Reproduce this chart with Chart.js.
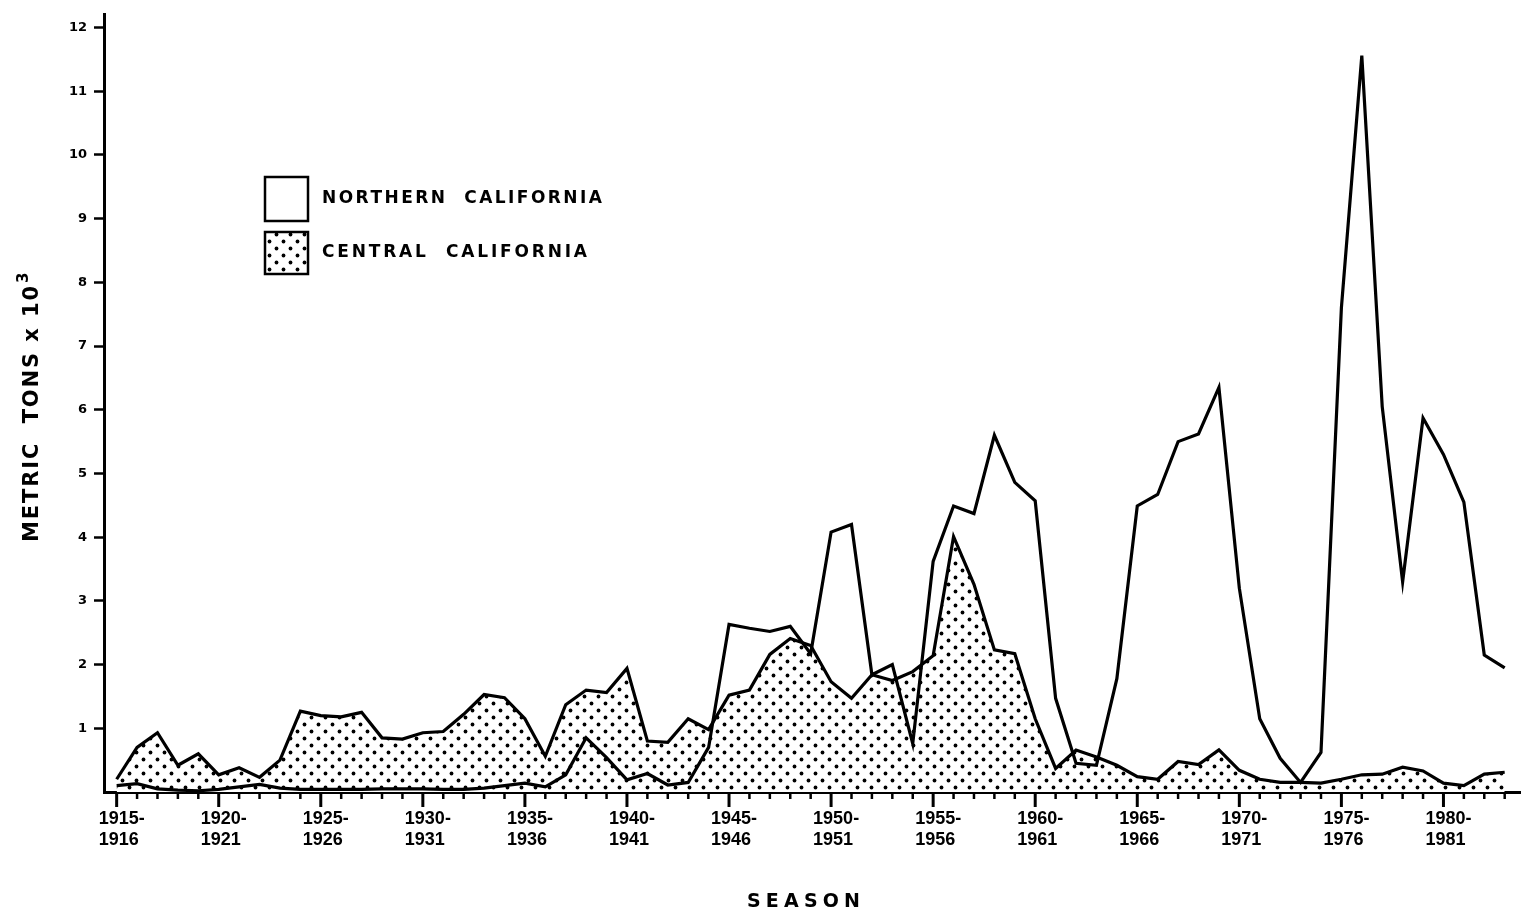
<!DOCTYPE html>
<html>
<head>
<meta charset="utf-8">
<title>Metric tons by season</title>
<script src="https://cdn.jsdelivr.net/npm/chart.js@4.4.1/dist/chart.umd.min.js"></script>
<style>
    html, body { margin: 0; padding: 0; background: #fff; }
    #chart-container { width: 1527px; height: 917px; }
</style>
</head>
<body>
<div id="chart-container"><canvas id="myChart" width="1527" height="917"></canvas></div>
<script>
// Seasons (first year of each season, e.g. 1915 = 1915-1916)
const seasons = [
    1915, 1916, 1917, 1918, 1919, 1920, 1921, 1922, 1923, 1924,
    1925, 1926, 1927, 1928, 1929, 1930, 1931, 1932, 1933, 1934,
    1935, 1936, 1937, 1938, 1939, 1940, 1941, 1942, 1943, 1944,
    1945, 1946, 1947, 1948, 1949, 1950, 1951, 1952, 1953, 1954,
    1955, 1956, 1957, 1958, 1959, 1960, 1961, 1962, 1963, 1964,
    1965, 1966, 1967, 1968, 1969, 1970, 1971, 1972, 1973, 1974,
    1975, 1976, 1977, 1978, 1979, 1980, 1981, 1982, 1983
];

// Metric tons x 10^3
const northernCalifornia = [
    0.10, 0.13, 0.05, 0.03, 0.02, 0.04, 0.08, 0.12, 0.06, 0.04,
    0.04, 0.04, 0.04, 0.05, 0.05, 0.05, 0.04, 0.04, 0.06, 0.10,
    0.14, 0.08, 0.27, 0.85, 0.54, 0.19, 0.29, 0.11, 0.15, 0.70,
    2.63, 2.57, 2.52, 2.60, 2.17, 4.08, 4.20, 1.84, 2.00, 0.76,
    3.62, 4.49, 4.37, 5.60, 4.86, 4.57, 1.47, 0.45, 0.42, 1.78,
    4.49, 4.67, 5.50, 5.62, 6.35, 3.20, 1.15, 0.53, 0.15, 0.62,
    7.60, 11.56, 6.05, 3.30, 5.87, 5.30, 4.55, 2.15, 1.95
];

const centralCalifornia = [
    0.20, 0.70, 0.93, 0.42, 0.60, 0.27, 0.38, 0.23, 0.50, 1.27,
    1.20, 1.18, 1.25, 0.85, 0.83, 0.93, 0.95, 1.22, 1.53, 1.48,
    1.15, 0.56, 1.37, 1.60, 1.56, 1.94, 0.80, 0.78, 1.15, 0.98,
    1.52, 1.60, 2.16, 2.41, 2.30, 1.73, 1.47, 1.84, 1.75, 1.89,
    2.14, 4.01, 3.26, 2.23, 2.17, 1.15, 0.37, 0.66, 0.55, 0.42,
    0.24, 0.20, 0.48, 0.43, 0.66, 0.34, 0.20, 0.15, 0.15, 0.14,
    0.20, 0.27, 0.28, 0.39, 0.33, 0.14, 0.10, 0.28, 0.31
];

const yTickValues = [1, 2, 3, 4, 5, 6, 7, 8, 9, 10, 11, 12];

const FONT = '"Liberation Sans", Arial, sans-serif';
const TITLE_FONT = '"DejaVu Sans", "Liberation Sans", sans-serif';

const canvas = document.getElementById('myChart');
const ctx = canvas.getContext('2d');

// Dotted fill used for the Central California area
function makeDotPattern() {
    const tile = document.createElement('canvas');
    tile.width = 14;
    tile.height = 14;
    const g = tile.getContext('2d');
    g.fillStyle = '#fff';
    g.fillRect(0, 0, 14, 14);
    g.fillStyle = '#000';
    [[3.5, 3.5], [10.5, 10.5]].forEach(([x, y]) => {
        g.beginPath();
        g.arc(x, y, 1.9, 0, Math.PI * 2);
        g.fill();
    });
    return ctx.createPattern(tile, 'repeat');
}
const dots = makeDotPattern();

// Draw text stretched to a given width with letter spacing
function spacedText(c, text, x, y, width) {
    c.letterSpacing = '0px';
    const w0 = c.measureText(text).width;
    const sp = Math.max(0, (width - w0) / (text.length - 1));
    c.letterSpacing = sp + 'px';
    c.fillText(text, x, y);
    c.letterSpacing = '0px';
}

// Minor/major tick marks under the x axis, plus legend and axis titles
const decorations = {
    id: 'decorations',
    afterDraw(chart) {
        const c = chart.ctx;
        const xs = chart.scales.x;
        const base = chart.chartArea.bottom;
        c.save();
        c.strokeStyle = '#000';
        seasons.forEach(yr => {
            const px = xs.getPixelForValue(yr);
            const major = yr % 5 === 0;
            c.lineWidth = major ? 3 : 2.5;
            c.beginPath();
            c.moveTo(px, base);
            c.lineTo(px, base + (major ? 15 : 7));
            c.stroke();
        });

        // legend
        c.lineWidth = 2.5;
        c.fillStyle = '#fff';
        c.fillRect(265, 177, 43, 44);
        c.strokeRect(265, 177, 43, 44);
        c.fillStyle = dots;
        c.fillRect(265, 232, 43, 42);
        c.strokeRect(265, 232, 43, 42);

        c.fillStyle = '#000';
        c.font = 'bold 17px ' + TITLE_FONT;
        c.textBaseline = 'middle';
        c.textAlign = 'left';
        spacedText(c, 'NORTHERN  CALIFORNIA', 322, 199, 280);
        spacedText(c, 'CENTRAL  CALIFORNIA', 322, 253, 265);

        // x title
        c.font = 'bold 19px ' + TITLE_FONT;
        spacedText(c, 'SEASON', 747, 902, 113);

        // y title (rotated)
        c.translate(38, 542);
        c.rotate(-Math.PI / 2);
        c.textBaseline = 'alphabetic';
        c.font = 'bold 21px ' + TITLE_FONT;
        spacedText(c, 'METRIC  TONS x 10', 0, 0, 256);
        c.font = 'bold 15px ' + TITLE_FONT;
        c.fillText('3', 259, -10);
        c.restore();
    }
};

new Chart(canvas, {
    type: 'line',
    data: {
        datasets: [
            {
                label: 'NORTHERN CALIFORNIA',
                data: seasons.map((s, i) => ({ x: s, y: northernCalifornia[i] })),
                borderColor: '#000',
                borderWidth: 3.2,
                fill: false,
                pointRadius: 0,
                tension: 0,
                order: 0
            },
            {
                label: 'CENTRAL CALIFORNIA',
                data: seasons.map((s, i) => ({ x: s, y: centralCalifornia[i] })),
                borderColor: '#000',
                borderWidth: 3.2,
                backgroundColor: dots,
                fill: 'origin',
                pointRadius: 0,
                tension: 0,
                order: 1
            }
        ]
    },
    options: {
        responsive: false,
        animation: false,
        devicePixelRatio: 1,
        layout: { padding: { top: 6, right: 7, left: 0, bottom: 0 } },
        plugins: {
            legend: { display: false },
            tooltip: { enabled: false }
        },
        scales: {
            x: {
                type: 'linear',
                min: 1914.38,
                max: 1983.75,
                ticks: {
                    stepSize: 1,
                    includeBounds: false,
                    autoSkip: false,
                    maxRotation: 0,
                    align: 'start',
                    labelOffset: -18,
                    padding: 17,
                    color: '#000',
                    font: { family: FONT, size: 18, weight: 'bold', lineHeight: 1.15 },
                    callback: v => {
                        const yr = Math.round(v);
                        return yr % 5 === 0 ? [yr + '-', String(yr + 1)] : '';
                    }
                },
                grid: { display: false, drawTicks: false },
                border: { display: true, color: '#000', width: 3 },
                afterFit: s => { s.height = 125; }
            },
            y: {
                min: 0,
                max: 12.2,
                afterBuildTicks: s => { s.ticks = yTickValues.map(v => ({ value: v })); },
                ticks: {
                    padding: 7,
                    color: '#000',
                    font: { family: TITLE_FONT, size: 13, weight: 'bold' }
                },
                grid: {
                    drawOnChartArea: false,
                    drawTicks: true,
                    tickLength: 10,
                    tickWidth: 2.5,
                    tickColor: '#000',
                    color: '#000'
                },
                border: { display: true, color: '#000', width: 3 },
                afterFit: s => { s.width = 104; }
            }
        }
    },
    plugins: [decorations]
});
</script>
</body>
</html>
